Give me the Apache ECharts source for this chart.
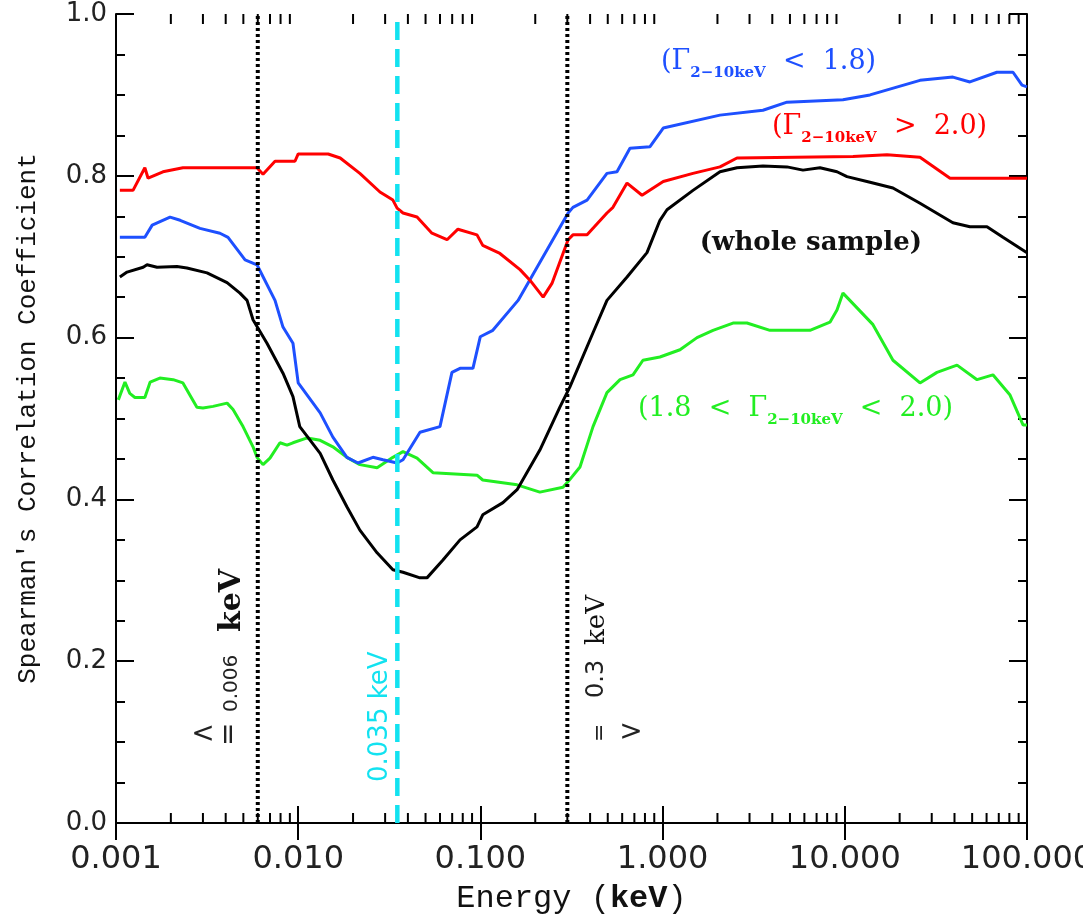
<!DOCTYPE html>
<html>
<head>
<meta charset="utf-8">
<script src="https://cdn.jsdelivr.net/npm/echarts@6/dist/echarts.min.js"></script>
<style>
  html, body { margin: 0; padding: 0; background: #fff; }
  #chart { width: 1083px; height: 922px; }
</style>
</head>
<body>
<div id="chart"></div>
<script>
// Spearman correlation coefficient versus energy (keV) for the full sample
// and three photon-index sub-samples.
const wholeEnergy = [0.00105, 0.00115, 0.00141, 0.00148, 0.00168, 0.00216, 0.00245, 0.00316, 0.00407, 0.00479,
  0.00524, 0.00565, 0.00674, 0.00825, 0.00936, 0.0102, 0.0132, 0.0155, 0.0185, 0.0218,
  0.0271, 0.0331, 0.0376, 0.0466, 0.0509, 0.0623, 0.0773, 0.0958, 0.103, 0.133,
  0.159, 0.212, 0.273, 0.310, 0.415, 0.495, 0.638, 0.821, 0.967, 1.057,
  1.468, 2.065, 2.561, 3.556, 4.817, 5.895, 7.31, 9.06, 10.28, 13.75,
  18.38, 25.86, 39.2, 48.6, 60.3, 73.8, 100];
const wholeRho = [0.675, 0.681, 0.687, 0.690, 0.687, 0.688, 0.686, 0.680, 0.668, 0.655,
  0.646, 0.622, 0.593, 0.556, 0.527, 0.490, 0.457, 0.424, 0.391, 0.362,
  0.334, 0.313, 0.310, 0.303, 0.303, 0.325, 0.350, 0.366, 0.381, 0.396,
  0.412, 0.461, 0.514, 0.539, 0.606, 0.646, 0.675, 0.705, 0.745, 0.758,
  0.782, 0.805, 0.810, 0.812, 0.811, 0.807, 0.810, 0.805, 0.799, 0.792,
  0.785, 0.766, 0.742, 0.737, 0.737, 0.724, 0.705];

const hardEnergy = [0.00105, 0.00144, 0.00158, 0.00198, 0.00225, 0.00289, 0.00372, 0.00412, 0.00511, 0.00594,
  0.00746, 0.00825, 0.00936, 0.0100, 0.0132, 0.0155, 0.0185, 0.0213, 0.0257, 0.0292,
  0.0349, 0.0376, 0.0466, 0.0600, 0.0698, 0.0773, 0.0910, 0.0998, 0.117, 0.161,
  0.303, 0.322, 0.385, 0.495, 0.562, 0.662, 0.853, 1.008, 2.065, 3.556,
  4.817, 9.77, 13.75, 25.86, 39.2, 48.6, 68.4, 83.8, 93.9, 100];
const hardRho = [0.724, 0.724, 0.739, 0.749, 0.745, 0.735, 0.729, 0.724, 0.696, 0.690,
  0.646, 0.613, 0.593, 0.544, 0.507, 0.477, 0.452, 0.445, 0.452, 0.449,
  0.445, 0.449, 0.483, 0.490, 0.557, 0.562, 0.562, 0.601, 0.609, 0.646,
  0.754, 0.761, 0.770, 0.803, 0.805, 0.834, 0.836, 0.859, 0.875, 0.881,
  0.891, 0.894, 0.900, 0.918, 0.922, 0.916, 0.928, 0.928, 0.912, 0.910];

const softEnergy = [0.00105, 0.00124, 0.00144, 0.00150, 0.00181, 0.00233, 0.00594, 0.00641, 0.00746, 0.00960,
  0.0100, 0.0146, 0.0170, 0.0218, 0.0281, 0.0331, 0.0349, 0.0376, 0.0449, 0.0542,
  0.0656, 0.0753, 0.0958, 0.103, 0.128, 0.165, 0.187, 0.221, 0.247, 0.284,
  0.303, 0.322, 0.385, 0.495, 0.534, 0.638, 0.771, 1.008, 1.468, 2.065,
  2.561, 11.09, 17.04, 25.86, 37.8, 100];
const softRho = [0.782, 0.782, 0.810, 0.797, 0.805, 0.810, 0.810, 0.802, 0.818, 0.818,
  0.827, 0.827, 0.822, 0.803, 0.780, 0.770, 0.760, 0.754, 0.749, 0.729,
  0.721, 0.734, 0.727, 0.714, 0.704, 0.684, 0.671, 0.650, 0.667, 0.704,
  0.721, 0.727, 0.727, 0.754, 0.761, 0.791, 0.776, 0.793, 0.803, 0.811,
  0.822, 0.824, 0.826, 0.823, 0.797, 0.797];

const midEnergy = [0.00103, 0.00112, 0.00119, 0.00127, 0.00144, 0.00154, 0.00174, 0.00206, 0.00233, 0.00278,
  0.00300, 0.00341, 0.00407, 0.00439, 0.00498, 0.00565, 0.00594, 0.00641, 0.00700, 0.00794,
  0.00868, 0.00936, 0.0112, 0.0132, 0.0155, 0.0185, 0.0218, 0.0271, 0.0331, 0.0376,
  0.0449, 0.0549, 0.0958, 0.103, 0.159, 0.212, 0.284, 0.303, 0.352, 0.415,
  0.495, 0.584, 0.688, 0.780, 0.967, 1.246, 1.545, 1.891, 2.434, 2.904,
  3.884, 6.44, 8.29, 9.06, 9.77, 14.28, 18.38, 25.86, 32.06, 41.3,
  53.2, 65.0, 80.7, 95.1, 100];
const midRho = [0.523, 0.545, 0.531, 0.526, 0.526, 0.545, 0.550, 0.548, 0.544, 0.514,
  0.513, 0.515, 0.519, 0.511, 0.490, 0.465, 0.452, 0.443, 0.451, 0.470,
  0.467, 0.470, 0.476, 0.473, 0.465, 0.452, 0.443, 0.439, 0.452, 0.459,
  0.451, 0.433, 0.430, 0.424, 0.418, 0.409, 0.415, 0.422, 0.440, 0.490,
  0.532, 0.548, 0.554, 0.572, 0.576, 0.585, 0.600, 0.609, 0.618, 0.618,
  0.609, 0.609, 0.619, 0.634, 0.655, 0.616, 0.572, 0.544, 0.557, 0.566,
  0.548, 0.554, 0.529, 0.492, 0.492];

// Boundary energies (keV) marked with vertical lines
const cutEnergies = [0.006, 0.035, 0.3];

// Minor tick positions on the logarithmic energy axis
const minorTicks = [0.002, 0.003, 0.004, 0.005, 0.006, 0.007, 0.008, 0.009,
  0.02, 0.03, 0.04, 0.05, 0.06, 0.07, 0.08, 0.09,
  0.2, 0.3, 0.4, 0.5, 0.6, 0.7, 0.8, 0.9,
  2, 3, 4, 5, 6, 7, 8, 9,
  20, 30, 40, 50, 60, 70, 80, 90];

const C_BLACK = '#000000', C_BLUE = '#1e50ff', C_RED = '#ff0000', C_GREEN = '#22ee22', C_CYAN = '#12e2f0';

const pair = (xs, ys) => xs.map((x, i) => [x, ys[i]]);

function curve(name, xs, ys, color, z) {
  return {
    name, type: 'line', data: pair(xs, ys), z,
    symbol: 'none', showSymbol: false, smooth: false,
    lineStyle: { color, width: 3 }, silent: true, animation: false
  };
}

// A vertical boundary line spanning the full coefficient range
function boundary(energy, color, width, dash) {
  return {
    type: 'line', data: [[energy, 0], [energy, 1]], z: 8,
    symbol: 'none', showSymbol: false, silent: true, animation: false,
    lineStyle: { color, width, type: dash, cap: 'butt' }
  };
}

const axisLine = { show: true, lineStyle: { color: '#000', width: 2 } };
const logAxisBase = { type: 'log', logBase: 10, min: 0.001, max: 100, splitLine: { show: false }, axisLine };

const chart = echarts.init(document.getElementById('chart'));

const option = {
  animation: false,
  backgroundColor: '#ffffff',
  grid: { left: 116, right: 56, top: 14, bottom: 99, containLabel: false, outerBoundsMode: 'none' },
  xAxis: [
    Object.assign({}, logAxisBase, {
      position: 'bottom',
      axisTick: { show: true, inside: true, length: 17, lineStyle: { color: '#000', width: 2 } },
      axisLabel: {
        show: true, margin: 21, color: '#222', fontFamily: 'DejaVu Sans', fontSize: 32,
        hideOverlap: false,
        formatter: v => Number(v).toFixed(3)
      },
      name: 'Energy ({b|keV})', nameLocation: 'middle', nameGap: 60,
      nameTextStyle: {
        fontFamily: 'Liberation Mono', fontSize: 32, color: '#111',
        rich: { b: { fontFamily: 'Liberation Mono', fontSize: 32, fontWeight: 'bold', color: '#111' } }
      }
    }),
    Object.assign({}, logAxisBase, {
      position: 'top',
      axisTick: { show: true, inside: true, length: 17, lineStyle: { color: '#000', width: 2 } },
      axisLabel: { show: false }
    })
  ],
  yAxis: [
    {
      type: 'value', min: 0, max: 1, interval: 0.2, position: 'left',
      splitLine: { show: false }, axisLine,
      axisTick: { show: true, inside: true, length: 18, lineStyle: { color: '#000', width: 2 } },
      minorTick: { show: true, splitNumber: 4, length: 9, lineStyle: { color: '#000', width: 2 } },
      axisLabel: { margin: 9, color: '#222', fontFamily: 'DejaVu Sans', fontSize: 26, formatter: v => v.toFixed(1) },
      name: "Spearman's Correlation Coefficient", nameLocation: 'middle', nameGap: 75,
      nameTextStyle: { fontFamily: 'Liberation Mono', fontSize: 26, color: '#111' }
    },
    {
      type: 'value', min: 0, max: 1, interval: 0.2, position: 'right',
      splitLine: { show: false }, axisLine,
      axisTick: { show: true, inside: true, length: 18, lineStyle: { color: '#000', width: 2 } },
      minorTick: { show: true, splitNumber: 4, length: 9, lineStyle: { color: '#000', width: 2 } },
      axisLabel: { show: false }
    }
  ],
  series: [
    curve('whole sample', wholeEnergy, wholeRho, C_BLACK, 3),
    curve('1.8 < Γ < 2.0', midEnergy, midRho, C_GREEN, 2),
    curve('Γ < 1.8', hardEnergy, hardRho, C_BLUE, 4),
    curve('Γ > 2.0', softEnergy, softRho, C_RED, 5),
    boundary(cutEnergies[0], C_BLACK, 4, [3, 3]),
    boundary(cutEnergies[1], C_CYAN, 4.5, [18, 9]),
    boundary(cutEnergies[2], C_BLACK, 4, [3, 3]),
    {
      // minor ticks on the bottom and top energy axes
      type: 'custom', silent: true, z: 10, clip: false,
      data: minorTicks.map(e => [e, 0]),
      renderItem: function (params, api) {
        const e = api.value(0);
        const b = api.coord([e, 0]);
        const t = api.coord([e, 1]);
        return {
          type: 'group',
          children: [
            { type: 'line', shape: { x1: b[0], y1: b[1], x2: b[0], y2: b[1] - 10 }, style: { stroke: '#000', lineWidth: 2 } },
            { type: 'line', shape: { x1: t[0], y1: t[1], x2: t[0], y2: t[1] + 10 }, style: { stroke: '#000', lineWidth: 2 } }
          ]
        };
      }
    }
  ]
};

// Annotations: sample labels with subscripted photon index
function gammaLabel(id, x, y, color, before, after) {
  return {
    id, type: 'text', x, y, rotation: 0, silent: true, z: 20,
    style: {
      text: '{p|' + before + 'Γ}{s|2−10keV}{p|' + after + '}',
      align: 'left', verticalAlign: 'top', fill: color,
      rich: {
        p: { fontFamily: 'DejaVu Serif', fontSize: 27, lineHeight: 30, verticalAlign: 'top', fill: color },
        s: { fontFamily: 'DejaVu Serif', fontSize: 15, fontWeight: 'bold', lineHeight: 15, verticalAlign: 'top', padding: [18, 0, 0, 0], fill: color }
      }
    }
  };
}

// Text reading bottom-to-top, starting at (x, y)
function vtext(id, x, y, text, font, size, color, weight) {
  return {
    id, type: 'text', x, y, rotation: Math.PI / 2, silent: true, z: 20,
    style: { text, align: 'left', verticalAlign: 'middle', fill: color,
      fontFamily: font, fontSize: size, fontWeight: weight || 'normal' }
  };
}

// Upright text centred on (x, y)
function htext(id, x, y, text, size, color) {
  return {
    id, type: 'text', x, y, rotation: 0, silent: true, z: 20,
    style: { text, align: 'center', verticalAlign: 'middle', fill: color, fontFamily: 'DejaVu Sans', fontSize: size }
  };
}

option.graphic = [
  gammaLabel('lblHard', 661, 48, C_BLUE, '(', '  <  1.8)'),
  gammaLabel('lblSoft', 772, 113, C_RED, '(', '  >  2.0)'),
  gammaLabel('lblMid', 638, 395, C_GREEN, '(1.8  <  ', '  <  2.0)'),
  {
    id: 'lblWhole', type: 'text', x: 922, y: 243, rotation: 0, silent: true, z: 20,
    style: { text: '(whole sample)', align: 'right', verticalAlign: 'middle', fill: '#111',
      fontFamily: 'DejaVu Serif', fontSize: 26, fontWeight: 'bold' }
  },
  // lower-energy boundary
  htext('arrowLo', 203, 735, '<', 28, '#222'),
  vtext('eqLo', 230, 746, '=', 'DejaVu Sans', 28, '#222'),
  vtext('numLo', 232, 712, '0.006', 'DejaVu Sans', 20, '#222'),
  vtext('unitLo', 232, 632, 'keV', 'DejaVu Serif', 30, '#111', 'bold'),
  // soft-excess reference energy
  vtext('numMid', 380, 782, '0.035 keV', 'DejaVu Sans', 26, C_CYAN),
  // upper-energy boundary
  htext('arrowHi', 631, 733, '>', 28, '#222'),
  vtext('eqHi', 600, 742, '=', 'DejaVu Sans', 22, '#222'),
  vtext('numHi', 597, 698, '0.3', 'DejaVu Sans', 24, '#222'),
  vtext('unitHi', 597, 645, 'keV', 'DejaVu Serif', 26, '#111')
];

chart.setOption(option);
</script>
</body>
</html>
